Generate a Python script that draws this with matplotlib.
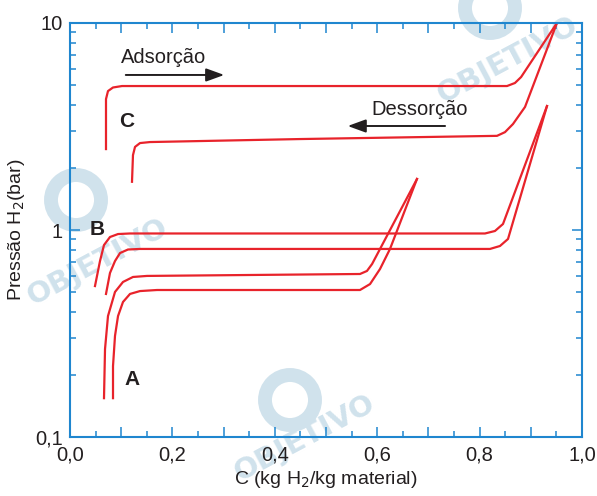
import matplotlib
matplotlib.use("Agg")
import matplotlib.pyplot as plt
from matplotlib.patches import Ellipse
from matplotlib.ticker import FixedLocator, FuncFormatter, LogLocator, NullFormatter, MultipleLocator

plt.rcParams['font.family'] = ['Liberation Sans', 'DejaVu Sans']

# loop C (top)
c_ads_x = [0.0703, 0.0703, 0.0703, 0.0742, 0.084, 0.1016, 0.8535, 0.869, 0.881, 0.951]
c_ads_y = [2.46, 3.44, 4.29, 4.69, 4.88, 4.96, 4.96, 5.13, 5.48, 10.0]
c_des_x = [0.951, 0.8887, 0.8652, 0.8496, 0.834, 0.449, 0.1563, 0.1367, 0.127, 0.123, 0.1211]
c_des_y = [10.0, 3.93, 3.25, 2.97, 2.85, 2.75, 2.66, 2.63, 2.52, 2.30, 1.71]

# loop B (middle)
b_up_x = [0.0488, 0.0586, 0.0664, 0.0781, 0.0938, 0.117, 0.8105, 0.830, 0.8457, 0.9316]
b_up_y = [0.536, 0.708, 0.846, 0.925, 0.956, 0.962, 0.962, 0.989, 1.069, 3.97]
b_lo_x = [0.0703, 0.0781, 0.0879, 0.0977, 0.1133, 0.1367, 0.8203, 0.8398, 0.8555, 0.9316]
b_lo_y = [0.491, 0.620, 0.708, 0.774, 0.805, 0.810, 0.810, 0.837, 0.905, 3.97]

# loop A (bottom)
a_up_x = [0.0664, 0.0684, 0.0742, 0.0879, 0.1035, 0.123, 0.1504, 0.5664, 0.580, 0.590, 0.6777]
a_up_y = [0.154, 0.266, 0.384, 0.502, 0.561, 0.593, 0.600, 0.613, 0.634, 0.685, 1.764]
a_lo_x = [0.084, 0.084, 0.0879, 0.0938, 0.1035, 0.1172, 0.1367, 0.170, 0.5664, 0.586, 0.6055, 0.625, 0.6777]
a_lo_y = [0.154, 0.220, 0.308, 0.384, 0.449, 0.491, 0.507, 0.513, 0.513, 0.548, 0.648, 0.810, 1.764]

curves = [(c_ads_x, c_ads_y), (c_des_x, c_des_y), (b_up_x, b_up_y),
          (b_lo_x, b_lo_y), (a_up_x, a_up_y), (a_lo_x, a_lo_y)]

RED = '#e8232b'
BLUE = '#1f86cf'
INK = '#231f20'
WM = '#d0e2ec'

fig = plt.figure(figsize=(5.97, 4.96), dpi=100)
ax = fig.add_axes([70 / 597, 1 - 437 / 496, 512 / 597, 414 / 496])
ax.set_facecolor('none')

# watermarks behind everything (kept inside the figure)
for (cx, cy), (lx, ly) in [((508, 60), (490, 8)), ((98, 262), (76, 200)), ((305, 438), (290, 400))]:
    fig.text(cx / 597, 1 - cy / 496, 'OBJETIVO', rotation=28, fontsize=21, fontweight='bold',
             color=WM, ha='center', va='center', zorder=-2, family='DejaVu Sans')
    fig.patches.append(Ellipse((lx / 597, 1 - ly / 496), 50 / 597, 50 / 496, transform=fig.transFigure,
                               facecolor='none', edgecolor=WM, linewidth=10, zorder=-2))

for xs, ys in curves:
    ax.plot(xs, ys, color=RED, lw=1.6, solid_joinstyle='round')

ax.set_yscale('log')
ax.set_xlim(0, 1.0)
ax.set_ylim(0.1, 10)

ax.xaxis.set_major_locator(MultipleLocator(0.1))
ax.xaxis.set_minor_locator(MultipleLocator(0.05))
ax.xaxis.set_major_formatter(FuncFormatter(
    lambda v, p: ('%.1f' % v).replace('.', ',') if round(v * 10) % 2 == 0 else ''))
ax.yaxis.set_major_locator(FixedLocator([0.1, 1, 10]))
ax.yaxis.set_minor_locator(LogLocator(base=10, subs=range(2, 10)))
ax.yaxis.set_minor_formatter(NullFormatter())
ax.yaxis.set_major_formatter(FuncFormatter(lambda v, p: {0.1: '0,1', 1: '1', 10: '10'}.get(round(v, 1), '')))

for s in ax.spines.values():
    s.set_color(BLUE)
    s.set_linewidth(1.5)
ax.tick_params(which='both', direction='in', top=True, right=True, color=BLUE, width=1.1,
               labelsize=14.5, labelcolor=INK)
ax.tick_params(which='major', length=7)
ax.tick_params(which='minor', length=4.5)
ax.tick_params(axis='x', pad=6)
ax.tick_params(axis='y', pad=5)

ax.set_xlabel('C (kg H$_2$/kg material)', fontsize=14, color=INK, labelpad=3)
ax.set_ylabel('Pressão H$_2$(bar)', fontsize=14, color=INK, labelpad=6)

arrow = dict(arrowstyle='-|>,head_length=1.1,head_width=0.4', color=INK, lw=1.4)
ax.text(0.1826, 6.78, 'Adsorção', fontsize=14.5, color=INK, ha='center', va='center')
ax.annotate('', xy=(0.3066, 5.61), xytext=(0.1035, 5.61), arrowprops=arrow)
ax.text(0.6826, 3.80, 'Dessorção', fontsize=14.5, color=INK, ha='center', va='center')
ax.annotate('', xy=(0.537, 3.18), xytext=(0.738, 3.18), arrowprops=arrow)

for lab, lx, ly in [('C', 0.110, 3.34), ('B', 0.0537, 1.01), ('A', 0.122, 0.1896)]:
    ax.text(lx, ly, lab, fontsize=15, fontweight='bold', color=INK, ha='center', va='center')

fig.savefig('out.png', dpi=100)
